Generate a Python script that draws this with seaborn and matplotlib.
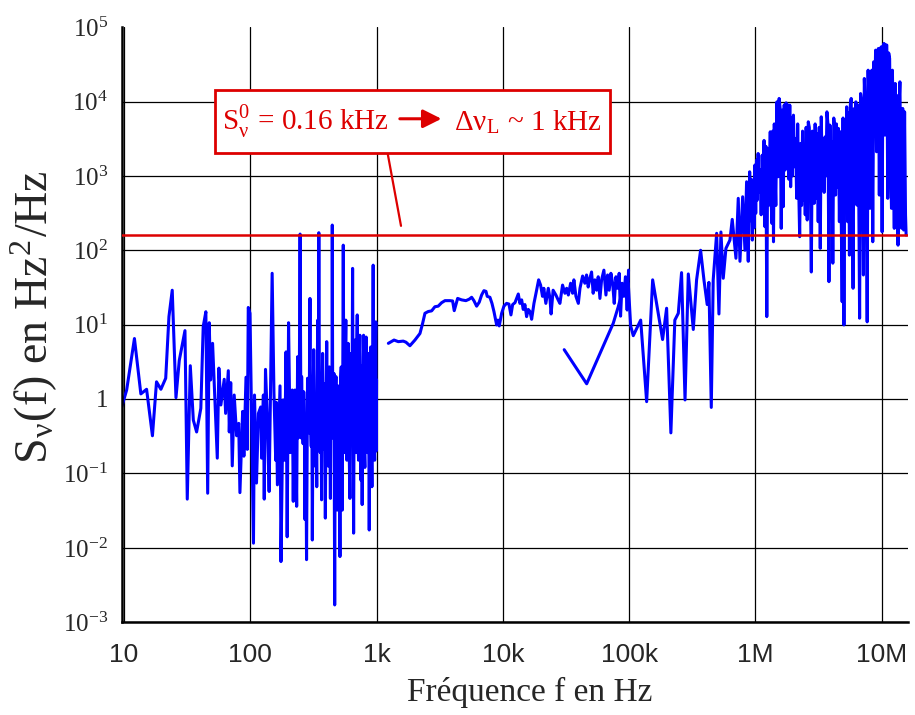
import matplotlib
matplotlib.use("Agg")
import pandas as pd
import matplotlib.pyplot as plt
import seaborn as sns
from matplotlib.ticker import LogLocator, NullFormatter
from matplotlib.patches import Rectangle

# --- Données (f en Hz, S en Hz^2/Hz) ---
# balayage basse fréquence 10 Hz - 1 kHz
f_low = [9.6, 10.5, 12.1, 13.6, 15.1, 16.8, 18.1, 19.6, 21.4, 22.7, 24.1, 25.8, 27.4, 30.4,
         31.7, 33.5, 35.4, 37.6, 40.6, 42.4, 44.5, 46, 47.3, 48.5, 50.3, 54.8, 56.4, 58.5,
         62.2, 63.8, 67, 68.2, 70, 72, 74.6, 78, 81, 82.8, 87, 89, 92.5, 94.7, 96.4, 99.5,
         106, 108, 112, 116, 121, 123, 127, 129, 132, 137, 141, 146, 149, 154, 159, 161, 164,
         169, 172, 175, 182, 185, 187, 192, 196, 201, 204, 207, 211, 215, 219, 222, 226, 229,
         233, 237, 240, 244, 248, 252, 255, 258, 262, 265, 268, 271, 275, 279, 284, 288, 292,
         297, 300, 304, 307, 310, 314, 318, 322, 327, 331, 336, 339, 342, 345, 349, 353, 358,
         362, 367, 370, 374, 378, 383, 388, 393, 398, 403, 409, 415, 419, 423, 427, 431, 435,
         439, 443, 446, 450, 454, 460, 466, 471, 477, 483, 489, 495, 501, 507, 513, 519, 525,
         530, 535, 540, 545, 551, 558, 564, 571, 576, 582, 589, 596, 605, 615, 622, 629, 637,
         646, 652, 658, 665, 673, 680, 686, 695, 703, 711, 720, 729, 738, 745, 751, 760, 769,
         779, 789, 798, 808, 818, 828, 838, 849, 862, 875, 886, 898, 908, 919, 930, 940, 953,
         966, 976, 987, 994, 1000]
s_low = [0.78, 1.32, 6.5, 1.17, 1.35, 0.32, 1.7, 1.35, 1.9, 12.8, 29, 1.04, 3.3, 8.3,
         0.045, 2.8, 0.52, 0.36, 0.75, 9.4, 14.9, 0.054, 10.6, 1.8, 5.6, 0.16, 2.6, 0.83,
         1.84, 0.64, 2.4, 0.36, 1.66, 0.126, 1.13, 0.32, 0.47, 0.055, 0.68, 0.17, 1.96, 0.21, 17, 14.2,
         0.0115, 1.13, 0.074, 0.64, 0.78, 0.16, 1.13, 0.045, 2.5, 0.47, 0.057, 3.9, 49, 1.2, 0.15, 0.9, 0.07,
         0.45, 1.5, 0.0065, 0.97, 0.6, 0.15, 4.3, 0.014, 10.6, 1.6, 0.19, 0.5, 1.32, 0.042, 0.8, 1.32, 0.35,
         0.036, 3.7, 0.3, 0.87, 165, 0.3, 2.0, 0.64, 0.25, 1.25, 0.6, 0.024, 0.5, 0.0069, 1.9, 0.64, 0.35,
         22.5, 0.5, 0.23, 1.5, 0.0127, 0.9, 4.6, 0.4, 0.125, 1.1, 0.066, 2.0, 11.5, 0.6, 172, 0.9, 0.19,
         2.2, 0.044, 0.8, 4.1, 0.5, 0.21, 1.6, 0.025, 0.7, 5.9, 0.35, 0.125, 1.4, 2.7, 0.3, 0.046, 1.9,
         0.78, 0.3, 218, 0.3, 0.52, 2.2, 0.0017, 0.9, 2.0, 0.25, 0.032, 1.5, 1.2, 0.3, 0.0076, 1.8, 2.7,
         0.4, 0.032, 2.5, 117, 0.5, 0.19, 2.8, 11.5, 0.35, 0.15, 1.9, 5.6, 0.3, 0.046, 2.4, 4.1, 0.25,
         57, 0.5, 0.0157, 1.6, 6.2, 0.4, 0.19, 3.2, 13.5, 0.3, 0.15, 3.5, 7.2, 0.3, 0.081, 2.8, 0.038,
         1.2, 7.2, 0.25, 0.12, 3.0, 6.8, 0.35, 0.19, 4.1, 0.0173, 1.0, 5.0, 0.4, 0.066, 3.0, 63, 0.3,
         0.15, 4, 10.9, 0.2, 1.8]

# balayage 1 kHz - 100 kHz
f_mid = [1240, 1375, 1486, 1626, 1709, 1837, 2013, 2206, 2316, 2416, 2566, 2729, 2897, 3076,
         3273, 3480, 3811, 4000, 4121, 4385, 4718, 5100, 5420, 5660, 5900, 6200, 6500, 6790,
         7080, 7350, 7520, 7900, 8200, 8500, 8930, 9150, 9360, 9780, 10200, 10700, 11170,
         11590, 11950, 12470, 13250, 13650, 14090, 14500, 14950, 15420, 15890, 16400, 16900,
         17630, 18500, 19200, 19900, 20600, 21100, 21900, 22900, 23600, 24100, 25000, 26300,
         27400, 28300, 29700, 31000, 32000, 33000, 34400, 35700, 36500, 37900, 39600, 40800,
         42800, 44600, 46000, 47400, 48900, 50400, 51900, 53500, 55200, 56900, 58700, 60500,
         63100, 65500, 67500, 69500, 71700, 74000, 76200, 78600, 81000, 83400, 85500, 87900,
         90700, 93500, 96400, 98900]
s_mid = [5.6, 6.2, 5.9, 6.0, 5.8, 5.2, 6.2, 7.6, 10.4, 14.2, 15, 15.3, 17.4, 17.7,
         19.7, 21, 21, 20.8, 15.4, 22.5, 21.5, 21, 22, 23.3, 21, 17.7, 20, 25,
         28.6, 28, 24, 23.3, 19.3, 15, 9.9, 11.5, 9.6, 14.2, 17.7, 19.3, 18.9,
         13.5, 18.6, 19.7, 25.8, 19.3, 21.5, 16, 18.6, 12.8, 16, 15, 11.8,
         19.3, 29, 40, 34, 24, 30.8, 19.3, 30.8, 22.5, 13.9, 29, 25,
         21.5, 19.3, 34, 26.4, 30.8, 25, 36, 26.4, 40, 24, 19.3, 30.8,
         45, 36, 46.5, 32, 42, 51, 26.4, 40, 29, 44, 22.5, 40,
         54, 25, 46.5, 29, 49, 36, 19.3, 44, 30.8, 49, 13, 36,
         24, 44, 15.7, 54]

# balayage 30 kHz - 16 MHz
f_high = [30600, 46100, 74800, 82000, 89300, 98400, 102800, 107800, 123400, 137600, 153500,
          184000, 198000, 214000, 230000, 245000, 260000, 277000, 294000, 322000, 342000,
          368000, 391000, 415000, 428000, 447000, 463000, 493000, 514000, 533000, 556000,
          584000, 628000, 655000, 701000, 731000, 754000, 792000, 826000, 851000, 877000,
          0.900e6, 0.915e6, 0.930e6, 0.945e6, 0.960e6, 0.975e6, 0.990e6, 1.005e6, 1.020e6,
          1.035e6, 1.050e6, 1.070e6, 1.090e6, 1.110e6, 1.130e6, 1.150e6, 1.170e6, 1.190e6,
          1.210e6, 1.230e6, 1.250e6, 1.270e6, 1.290e6, 1.310e6, 1.330e6, 1.350e6, 1.370e6,
          1.390e6, 1.410e6, 1.430e6, 1.450e6, 1.480e6, 1.510e6, 1.540e6, 1.570e6, 1.600e6,
          1.630e6, 1.660e6, 1.690e6, 1.720e6, 1.750e6, 1.780e6, 1.810e6, 1.840e6, 1.870e6,
          1.900e6, 1.930e6, 1.960e6, 2.000e6, 2.040e6, 2.080e6, 2.120e6, 2.160e6, 2.200e6,
          2.240e6, 2.280e6, 2.320e6, 2.360e6, 2.400e6, 2.440e6, 2.480e6, 2.520e6, 2.570e6,
          2.620e6, 2.670e6, 2.720e6, 2.770e6, 2.820e6, 2.870e6, 2.920e6, 2.970e6, 3.020e6,
          3.080e6, 3.140e6, 3.200e6, 3.260e6, 3.320e6, 3.380e6, 3.440e6, 3.500e6, 3.560e6,
          3.620e6, 3.680e6, 3.750e6, 3.820e6, 3.890e6, 3.960e6, 4.030e6, 4.100e6, 4.170e6,
          4.240e6, 4.310e6, 4.380e6, 4.460e6, 4.540e6, 4.620e6, 4.700e6, 4.780e6, 4.860e6,
          4.940e6, 5.020e6, 5.100e6, 5.190e6, 5.280e6, 5.370e6, 5.460e6, 5.550e6, 5.640e6,
          5.730e6, 5.830e6, 5.930e6, 6.030e6, 6.130e6, 6.240e6, 6.350e6, 6.460e6, 6.570e6,
          6.680e6, 6.800e6, 6.920e6, 7.040e6, 7.160e6, 7.280e6, 7.410e6, 7.540e6, 7.670e6,
          7.800e6, 7.930e6, 8.070e6, 8.210e6, 8.350e6, 8.490e6, 8.640e6, 8.790e6, 8.940e6,
          9.090e6, 9.250e6, 9.410e6, 9.570e6, 9.730e6, 9.900e6, 10.07e6, 10.24e6, 10.42e6,
          10.60e6, 10.78e6, 10.97e6, 11.16e6, 11.35e6, 11.55e6, 11.75e6, 11.95e6, 12.15e6,
          12.36e6, 12.57e6, 12.79e6, 13.01e6, 13.23e6, 13.46e6, 13.69e6, 13.93e6, 14.17e6,
          14.41e6, 14.66e6, 14.91e6, 15.17e6, 15.43e6, 15.60e6]
s_high = [4.6, 1.6, 10.4, 17.4, 30, 36, 9.6, 7.1, 11.5, 0.92, 40,
          6.3, 16.6, 0.35, 11.5, 14.2, 50, 0.97, 48, 8.6, 40,
          100, 40, 18.6, 37, 0.77, 40, 169, 13.9, 176, 42,
          106, 137, 260, 78, 499, 71, 524, 100, 834, 71,
          1135, 250, 900, 137, 714, 200, 1400, 313, 1630,
          473, 2000, 600, 1197, 300, 1900, 582, 3000, 207,
          2500, 12.8, 2340, 400, 1080, 3920, 500, 230, 4000,
          130, 5000, 1080, 400, 9900, 973, 11000, 8000, 197,
          7660, 385, 9000, 1200, 9600, 2730, 9000, 900, 8950,
          714, 6000, 1000, 6560, 1326, 3190, 500, 5000, 714,
          152, 2730, 400, 4000, 473, 1805, 300, 4500, 255,
          5340, 4500, 793, 51, 4000, 3530, 427, 5000, 500,
          3720, 242, 4500, 106, 6230, 1200, 2460, 600, 3350,
          1000, 7270, 5000, 37.8, 4820, 800, 2870, 67, 6000,
          4570, 552, 5000, 700, 4350, 242, 3920, 300, 20.3,
          6000, 9.9, 2590, 600, 8490, 242, 7000, 86, 9000,
          11000, 1000, 30.8, 8000, 679, 9900, 405, 9000, 800,
          12.2, 12800, 10000, 1550, 46.5, 20400, 8000, 1260, 10.9,
          26400, 1500, 366, 20000, 26400, 130, 34200, 8000, 49100,
          2110, 45000, 51700, 552, 50000, 54300, 177, 55000, 60400,
          3530, 58000, 57300, 499, 45000, 37900, 1500, 366, 26400,
          2000, 197, 17500, 242, 12000, 117, 8000, 18400, 1000,
          197, 8070, 187, 7270, 300, 160]

S0 = 160  # niveau de bruit blanc : 0.16 kHz = 160 Hz^2/Hz

x_ticks = [10, 100, 1e3, 1e4, 1e5, 1e6, 1e7]
x_tick_labels = ["10", "100", "1k", "10k", "100k", "1M", "10M"]
y_ticks = [1e-3, 1e-2, 1e-1, 1, 10, 100, 1e3, 1e4, 1e5]
y_tick_labels = [r"10$^{\mathregular{-3}}$", r"10$^{\mathregular{-2}}$", r"10$^{\mathregular{-1}}$",
                 "1", r"10$^{\mathregular{1}}$", r"10$^{\mathregular{2}}$", r"10$^{\mathregular{3}}$",
                 r"10$^{\mathregular{4}}$", r"10$^{\mathregular{5}}$"]

df = pd.concat([
    pd.DataFrame({"f": f_low, "S": s_low, "seg": "low"}),
    pd.DataFrame({"f": f_mid, "S": s_mid, "seg": "mid"}),
    pd.DataFrame({"f": f_high, "S": s_high, "seg": "high"}),
], ignore_index=True)

sns.set_style("white")
plt.rcParams["font.family"] = ["Liberation Serif", "DejaVu Serif"]
plt.rcParams["mathtext.fontset"] = "stix"

RED = "#dd0000"

fig = plt.figure(figsize=(9.15, 7.15), dpi=100)
ax = fig.add_axes([0.1333, 0.130, 0.859, 0.832])

sns.lineplot(data=df, x="f", y="S", units="seg", estimator=None, sort=False,
             color="#0000ff", lw=2.2, ax=ax, zorder=2)
ax.axhline(S0, color=RED, lw=1.8, zorder=3)

ax.set_xscale("log")
ax.set_yscale("log")
ax.set_xlim(9.64, 1.613e7)
ax.set_ylim(1e-3, 1e5)

ax.set_xticks(x_ticks)
ax.set_xticklabels(x_tick_labels, fontsize=19,
                   fontfamily=["Liberation Sans Narrow", "Liberation Sans"])
ax.set_yticks(y_ticks)
ax.set_yticklabels(y_tick_labels, fontsize=18)
ax.xaxis.set_minor_locator(LogLocator(base=10, subs=range(2, 10), numticks=20))
ax.yaxis.set_minor_locator(LogLocator(base=10, subs=range(2, 10), numticks=20))
ax.xaxis.set_minor_formatter(NullFormatter())
ax.yaxis.set_minor_formatter(NullFormatter())

ax.tick_params(axis="x", which="major", direction="out", length=9, width=1.5, color="black", pad=6)
ax.tick_params(axis="x", which="minor", direction="out", length=5, width=1.2, color="black")
ax.tick_params(axis="y", which="major", direction="inout", length=12, width=1.5, color="black", pad=4)
ax.tick_params(axis="y", which="minor", direction="inout", length=6, width=1.2, color="black")

ax.grid(True, which="major", color="black", lw=0.9)
ax.set_axisbelow(True)
# pas de ligne de grille sur le bord haut
ax.yaxis.get_gridlines()[-1].set_visible(False)
for side in ["top", "right"]:
    ax.spines[side].set_visible(False)
for side in ["left", "bottom"]:
    ax.spines[side].set_linewidth(1.8)
    ax.spines[side].set_color("black")

ax.set_xlabel("Fréquence f en Hz", fontsize=24)
ax.set_ylabel(r"S$_{\mathregular{ν}}$(f) en Hz$^{\mathregular{2}}$/Hz", fontsize=33)
ax.xaxis.set_label_coords(0.519, -0.092)
ax.yaxis.set_label_coords(-0.079, 0.513)

# encadré d'annotation
ax.add_patch(Rectangle((0.118, 0.788), 0.503, 0.106, transform=ax.transAxes,
                       facecolor="white", edgecolor=RED, lw=2, zorder=5))
ax.plot([0.338, 0.355], [0.788, 0.666], transform=ax.transAxes, color=RED, lw=1.6, zorder=4)
ax.text(0.127, 0.841, r"S$^{\mathregular{0}}_{\mathregular{ν}}$ = 0.16 kHz", transform=ax.transAxes,
        color=RED, fontsize=21, va="center", ha="left", zorder=6)
ax.annotate("", xy=(0.410, 0.846), xytext=(0.350, 0.846), xycoords="axes fraction",
            arrowprops=dict(arrowstyle="-|>", color=RED, lw=2.2, mutation_scale=28), zorder=6)
ax.text(0.422, 0.841, r"Δν$_{\mathregular{L}}$ ~ 1 kHz", transform=ax.transAxes,
        color=RED, fontsize=21, va="center", ha="left", zorder=6)

fig.savefig("out.png", dpi=100)
